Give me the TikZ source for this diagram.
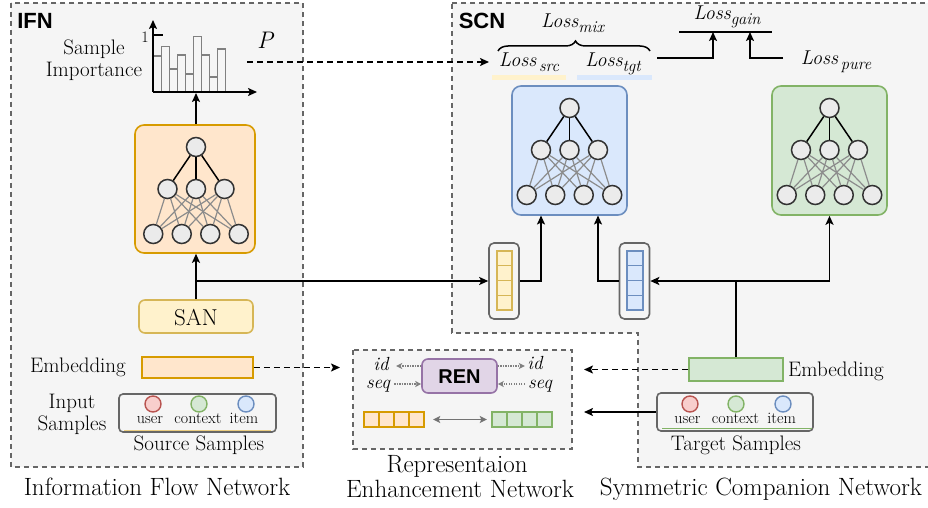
\documentclass[tikz,border=0pt]{standalone}
\usepackage{fontspec}
\newfontfamily\hel{Liberation Sans}
\usetikzlibrary{arrows.meta,decorations.pathreplacing,calc}
\definecolor{bgc}{HTML}{F5F5F5}
\definecolor{orfill}{HTML}{FFE6CC}\definecolor{orline}{HTML}{D79B00}
\definecolor{yefill}{HTML}{FFF2CC}\definecolor{yeline}{HTML}{D6B656}
\definecolor{blfill}{HTML}{DAE8FC}\definecolor{blline}{HTML}{6C8EBF}
\definecolor{grfill}{HTML}{D5E8D4}\definecolor{grline}{HTML}{82B366}
\definecolor{rdfill}{HTML}{F8CECC}\definecolor{rdline}{HTML}{B85450}
\definecolor{pufill}{HTML}{E1D5E7}\definecolor{puline}{HTML}{9673A6}
\newcommand\myCap{\fontsize{25}{28}\selectfont}
\newcommand\myLab{\fontsize{21}{24}\selectfont}
\newcommand\mySm{\fontsize{16}{18}\selectfont}
\newcommand\myLoss{\fontsize{20}{22}\selectfont\itshape}
\newcommand\lossterm[1]{Loss\raisebox{-5pt}{\fontsize{16.5}{18}\selectfont #1}}
\begin{document}
\begin{tikzpicture}[x=1pt,y=-1pt,
  grp/.style={fill=bgc,draw=black!60,line width=1.5pt,dash pattern=on 5pt off 4pt},
  nc/.style={circle,draw=black!80,fill=black!8,line width=1.5pt,minimum size=19pt,inner sep=0pt},
  nnbox/.style={rounded corners=9pt,line width=1.6pt,minimum width=115pt,minimum height=129pt,inner sep=0pt},
  arr/.style={-{Stealth[length=9pt,width=8pt,inset=2pt]},line width=1.9pt},
  darr/.style={arr,dash pattern=on 6pt off 4pt},
  dotarr/.style={-{Stealth[length=6pt,width=6pt,inset=1.5pt]},draw=black!50,line width=1.3pt,dash pattern=on 1.3pt off 1.2pt},
  lab/.style={anchor=base,inner sep=0pt,font=\myLab},
  captxt/.style={anchor=base,inner sep=0pt,font=\myCap},
  sm/.style={anchor=base,inner sep=0pt,font=\mySm},
  loss/.style={anchor=base,inner sep=0pt,font=\myLoss},
  scirc/.style={circle,line width=1.4pt,minimum size=16pt,inner sep=0pt},
  sbox/.style={rounded corners=4pt,draw=black!60,line width=1.6pt,minimum width=156pt,minimum height=38pt,inner sep=0pt},
  outvec/.style={rounded corners=5pt,draw=black!60,fill=bgc,line width=1.6pt,minimum width=30pt,minimum height=76pt,inner sep=0pt},
  nnet/.pic={
    \node[nc] (-t) at (0,22) {};
    \foreach \i/\x in {1/-28.5,2/0,3/28.5} \node[nc] (-m\i) at (\x,64) {};
    \foreach \i/\x in {1/-42.75,2/-14.25,3/14.25,4/42.75} \node[nc] (-b\i) at (\x,109) {};
    \foreach \i in {1,2,3} \draw[line width=1.5pt] (-t) -- (-m\i);
    \foreach \i in {1,2,3} \foreach \j in {1,2,3,4} \draw[draw=black!45,line width=1.2pt] (-m\i) -- (-b\j);
  }]
\useasboundingbox (0,0) rectangle (928,508);
% group backgrounds
\path[grp] (11,3) rectangle (303,467);
\path[grp] (452,3) -- (945,3) -- (945,467) -- (638,467) -- (638,333) -- (452,333) -- cycle;
\path[grp] (353,350) rectangle (572,449);
\node[anchor=base,inner sep=0pt,font=\hel\bfseries\fontsize{22}{24}\selectfont] (ifnlab) at (35,29) {IFN};
\node[anchor=base,inner sep=0pt,font=\hel\bfseries\fontsize{22}{24}\selectfont] (scnlab) at (482,29) {SCN};

% ---------- IFN ----------
\node[lab] (si1) at (94,55) {Sample};
\node[lab] (si2) at (94,77) {Importance};
\foreach \i/\h in {0/56,1/46.7,2/69,3/55,4/74,5/36.7,6/55,7/77,8/49}
  \draw[draw=black!50,line width=1.6pt] ({153.5+8*\i},92) rectangle ({153.5+8*(\i+1)},\h);
\coordinate (ho) at (153,92);
\coordinate (hy) at (153,20);
\coordinate (hx) at (257,92);
\draw[arr] (ho) -- (hy);
\draw[arr] (ho) -- (hx);
\draw[line width=1.6pt] (153,35) -- (163,35);
\node[sm] (one) at (145,43) {1};
\node[anchor=base,inner sep=0pt,font=\fontsize{24}{26}\selectfont\itshape] (plab) at (265,49) {P};
\coordinate (hbase) at (196,93);

\node[nnbox,fill=orfill,draw=orline,minimum width=120pt,minimum height=128pt] (ifnn) at (195,189) {};
\pic (n1) at (196,125) {nnet};
\draw[arr] (ifnn.north -| hbase) -- (hbase);

\node[rounded corners=6pt,fill=yefill,draw=yeline,line width=1.6pt,minimum width=114pt,minimum height=33pt,inner sep=0pt] (san) at (196,316.5) {};
\node[anchor=base,inner sep=0pt,font=\fontsize{23}{26}\selectfont] (santxt) at (196,325) {SAN};
\draw[arr] (san.north) -- (san.north |- ifnn.south);

\node[fill=orfill,draw=orline,line width=1.6pt,minimum width=111pt,minimum height=21pt,inner sep=0pt] (semb) at (197.5,367.5) {};
\node[lab] (sembl) at (78,372) {Embedding};
\node[lab] (in1) at (72,408) {Input};
\node[lab] (in2) at (72,430) {Samples};

\node[sbox,fill=bgc,minimum width=157pt] (ssb) at (197.5,413) {};
\draw[orline!50,line width=1.5pt] (124,430.5) -- (271,430.5);
\node[scirc,fill=rdfill,draw=rdline] (s1) at (153,404) {};
\node[scirc,fill=grfill,draw=grline] (s2) at (199,404) {};
\node[scirc,fill=blfill,draw=blline] (s3) at (246,404) {};
\node[sm] (s1l) at (150,423) {user};
\node[sm] (s2l) at (198,423) {context};
\node[sm] (s3l) at (244,423) {item};
\node[lab] (ssl) at (199,450) {Source Samples};
\node[captxt] (ifncap) at (157,495) {Information Flow Network};

% ---------- SCN ----------
\node[nnbox,fill=blfill,draw=blline] (bnn) at (569.5,150.5) {};
\pic (n2) at (569.5,86) {nnet};
\node[nnbox,fill=grfill,draw=grline] (gnn) at (829.5,150.5) {};
\pic (n3) at (829.5,86) {nnet};

\fill[yefill] (492,75) rectangle (566,80);
\fill[blfill] (577,75) rectangle (652,80);
\node[loss] (lsrc) at (529,67) {\lossterm{\,src}};
\node[loss] (ltgt) at (613,67) {\lossterm{tgt}};
\node[loss] (lmix) at (572.5,28) {\lossterm{mix}};
\node[loss] (lpure) at (836,65) {\lossterm{\,pure}};
\node[loss] (lgain) at (727,20) {\lossterm{gain}};
\draw[decorate,decoration={brace,amplitude=10pt,aspect=0.51},line width=1.5pt] (498,51) -- (650,51);
\coordinate (g1) at (679,32);
\coordinate (g2) at (772,32);
\draw[line width=1.9pt] (g1) -- (g2);
\coordinate (ga) at (713,32);
\coordinate (gb) at (750,32);
\coordinate (t1) at (657,58);
\coordinate (t2) at (783,58);
\draw[arr] (t1) -| (ga);
\draw[arr] (t2) -| (gb);
\coordinate (pstart) at (247,62);
\coordinate (pend) at (489,62);
\draw[darr] (pstart) -- (pend);

% vectors
\node[outvec] (yv) at (504,281) {};
\foreach \k in {0,1,2,3}
  \draw[fill=yefill,draw=yeline,line width=1.4pt] (497,{251+14.75*\k}) rectangle (512,{251+14.75*(\k+1)});
\node[outvec] (bv) at (634.5,281) {};
\foreach \k in {0,1,2,3}
  \draw[fill=blfill,draw=blline,line width=1.4pt] (627,{251+14.75*\k}) rectangle (643,{251+14.75*(\k+1)});

\coordinate (br) at (196,281);
\draw[arr] (br) -- (yv.west);
\coordinate (bin1) at (541,215.5);
\coordinate (bin2) at (598,215.5);
\draw[arr] (yv.east) -| (bin1);
\draw[arr] (bv.west) -| (bin2);

\node[fill=grfill,draw=grline,line width=1.6pt,minimum width=94pt,minimum height=23pt,inner sep=0pt] (temb) at (736,369.5) {};
\node[lab] (tembl) at (836,376) {Embedding};
\coordinate (tj) at (736,281);
\draw[line width=1.9pt] (temb.north) -- (tj);
\draw[arr] (tj) -- (bv.east);
\draw[arr] (tj) -| (gnn.south);

\node[sbox,fill=bgc] (tsb) at (735,412) {};
\draw[grline,line width=1.8pt] (662,428.5) -- (812,428.5);
\node[scirc,fill=rdfill,draw=rdline] (t1c) at (690,404) {};
\node[scirc,fill=grfill,draw=grline] (t2c) at (736,404) {};
\node[scirc,fill=blfill,draw=blline] (t3c) at (783,404) {};
\node[sm] (t1l) at (687.5,423) {user};
\node[sm] (t2l) at (735.5,423) {context};
\node[sm] (t3l) at (781.7,423) {item};
\node[lab] (tsl) at (736,450) {Target Samples};
\node[captxt] (scncap) at (761,495) {Symmetric Companion Network};

% ---------- REN ----------
\node[rounded corners=6pt,fill=pufill,draw=puline,line width=1.6pt,minimum width=75pt,minimum height=34pt,inner sep=0pt] (ren) at (459.5,376) {};
\node[anchor=base,inner sep=0pt,font=\hel\bfseries\fontsize{20}{22}\selectfont] (rentxt) at (459.5,383) {REN};
\node[lab,font=\fontsize{19}{22}\selectfont\itshape] (id1) at (381,370) {id};
\node[lab,font=\fontsize{19}{22}\selectfont\itshape] (seq1) at (378,388) {seq};
\node[lab,font=\fontsize{19}{22}\selectfont\itshape] (id2) at (535,369) {id};
\node[lab,font=\fontsize{19}{22}\selectfont\itshape] (seq2) at (540,388) {seq};
\draw[dotarr] ([yshift=10pt]ren.west) -- ++(-25,0) coordinate (d1);
\draw[dotarr] ([yshift=-8pt]ren.west) ++(-27,0) coordinate (d2) -- ([yshift=-8pt]ren.west);
\draw[dotarr] ([yshift=10pt]ren.east) -- ++(27,0) coordinate (d3);
\draw[dotarr] ([yshift=-8pt]ren.east) ++(27,0) coordinate (d4) -- ([yshift=-8pt]ren.east);

\node[minimum width=60pt,minimum height=15pt,inner sep=0pt] (ov) at (394,419.5) {};
\foreach \k in {0,1,2,3}
  \draw[fill=orfill,draw=orline,line width=1.4pt] ({364+15*\k},412) rectangle ({364+15*(\k+1)},427);
\node[minimum width=60pt,minimum height=15pt,inner sep=0pt] (gv) at (522,419.5) {};
\foreach \k in {0,1,2,3}
  \draw[fill=grfill,draw=grline,line width=1.4pt] ({492+15*\k},412) rectangle ({492+15*(\k+1)},427);
\draw[{Stealth[length=7pt,width=7pt,inset=1.5pt]}-{Stealth[length=7pt,width=7pt,inset=1.5pt]},draw=black!55,line width=1.4pt,shorten <=9pt,shorten >=5pt] (ov.east) -- (gv.west);

\coordinate (renL) at (340,367.5);
\coordinate (renR) at (584,369.5);
\coordinate (renR2) at (584,412);
\draw[darr] (semb.east) -- (renL);
\draw[darr] (temb.west) -- (renR);
\draw[arr] (tsb.west) -- (renR2);

\node[captxt] (rc1) at (457,472) {Representaion};
\node[captxt] (rc2) at (460,497) {Enhancement Network};
\end{tikzpicture}
\end{document}
